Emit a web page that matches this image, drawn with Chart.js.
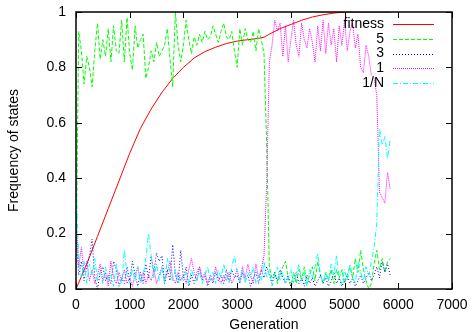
<!DOCTYPE html>
<html>
<head>
<meta charset="utf-8">
<script src="https://cdn.jsdelivr.net/npm/chart.js@4"></script>
<style>
html, body { margin: 0; padding: 0; background: #fff; }
</style>
</head>
<body>
<canvas id="canvas" width="472" height="332"></canvas>
<script>
// generations sampled for the state series
const generations = [
  0, 50, 100, 150, 200, 250, 300, 350, 400, 450,
  500, 550, 600, 650, 700, 750, 800, 850, 900, 950,
  1000, 1050, 1100, 1150, 1200, 1250, 1300, 1350, 1400, 1450,
  1500, 1550, 1600, 1650, 1700, 1750, 1800, 1850, 1900, 1950,
  2000, 2050, 2100, 2150, 2200, 2250, 2300, 2350, 2400, 2450,
  2500, 2550, 2600, 2650, 2700, 2750, 2800, 2850, 2900, 2950,
  3000, 3050, 3100, 3150, 3200, 3250, 3300, 3350, 3400, 3450,
  3500, 3550, 3600, 3650, 3700, 3750, 3800, 3850, 3900, 3950,
  4000, 4050, 4100, 4150, 4200, 4250, 4300, 4350, 4400, 4450,
  4500, 4550, 4600, 4650, 4700, 4750, 4800, 4850, 4900, 4950,
  5000, 5050, 5100, 5150, 5200, 5250, 5300, 5350, 5400, 5450,
  5500, 5550, 5600, 5650, 5700, 5750, 5800, 5850
];

const fitnessGen = [0, 200, 400, 600, 800, 1000, 1200, 1400, 1600, 1800, 2000, 2200, 2400, 2600, 2800,
  3000, 3200, 3400, 3500, 3600, 3800, 4000, 4200, 4400, 4600, 4800, 5000, 5400, 5850];
const fitness = [0, 0.09, 0.19, 0.29, 0.39, 0.49, 0.58, 0.65, 0.71, 0.76, 0.80, 0.834, 0.857, 0.873, 0.886,
  0.895, 0.900, 0.905, 0.909, 0.920, 0.940, 0.955, 0.970, 0.982, 0.990, 0.996, 1.0, 1.0, 1.0];

const state5 = [
  0.05, 0.93, 0.86, 0.74, 0.84, 0.80, 0.73, 0.86, 0.96, 0.83,
  0.90, 0.84, 0.94, 0.82, 0.95, 0.86, 0.85, 0.97, 0.82, 0.98,
  0.85, 0.79, 0.95, 0.87, 0.90, 0.92, 0.76, 0.80, 0.86, 0.82,
  0.89, 0.84, 0.86, 0.88, 0.94, 0.83, 0.73, 1.00, 0.88, 0.82,
  0.88, 0.97, 0.90, 0.85, 0.91, 0.88, 0.92, 0.89, 0.93, 0.90,
  0.91, 0.95, 0.92, 0.89, 0.93, 0.96, 0.91, 0.90, 0.93, 0.86,
  0.80, 0.94, 0.88, 0.94, 0.90, 0.89, 0.93, 0.86, 0.94, 0.90,
  0.85, 0.52, 0.08, 0.04, 0.06, 0.02, 0.05, 0.08, 0.10, 0.04,
  0.01, 0.06, 0.02, 0.07, 0.03, 0.08, 0.02, 0.05, 0.08, 0.03,
  0.10, 0.05, 0.02, 0.06, 0.03, 0.07, 0.02, 0.07, 0.04, 0.07,
  0.02, 0.05, 0.08, 0.04, 0.11, 0.06, 0.14, 0.07, 0.03, 0.00,
  0.02, 0.09, 0.14, 0.07, 0.11, 0.06, 0.10, 0.11
];
const state3 = [
  0.20, 0.05, 0.10, 0.03, 0.08, 0.12, 0.18, 0.04, 0.00, 0.06,
  0.08, 0.03, 0.05, 0.02, 0.10, 0.07, 0.01, 0.04, 0.02, 0.08,
  0.03, 0.10, 0.05, 0.01, 0.06, 0.02, 0.09, 0.04, 0.12, 0.06,
  0.13, 0.10, 0.12, 0.02, 0.07, 0.03, 0.16, 0.05, 0.02, 0.14,
  0.04, 0.08, 0.01, 0.05, 0.02, 0.06, 0.08, 0.03, 0.05, 0.01,
  0.04, 0.02, 0.06, 0.03, 0.05, 0.02, 0.07, 0.03, 0.07, 0.04,
  0.05, 0.02, 0.06, 0.03, 0.05, 0.01, 0.04, 0.06, 0.02, 0.07,
  0.04, 0.08, 0.05, 0.02, 0.06, 0.03, 0.07, 0.04, 0.02, 0.05,
  0.01, 0.03, 0.06, 0.02, 0.04, 0.01, 0.05, 0.02, 0.04, 0.01,
  0.03, 0.05, 0.02, 0.04, 0.01, 0.03, 0.06, 0.02, 0.04, 0.01,
  0.03, 0.05, 0.02, 0.04, 0.01, 0.03, 0.05, 0.02, 0.04, 0.06,
  0.03, 0.05, 0.08, 0.04, 0.10, 0.06, 0.09, 0.05
];
const state1 = [
  0.27, 0.08, 0.15, 0.06, 0.10, 0.03, 0.07, 0.02, 0.05, 0.09,
  0.03, 0.06, 0.01, 0.10, 0.04, 0.02, 0.06, 0.03, 0.07, 0.02,
  0.04, 0.01, 0.05, 0.08, 0.03, 0.06, 0.02, 0.05, 0.03, 0.07,
  0.02, 0.05, 0.08, 0.03, 0.06, 0.10, 0.04, 0.02, 0.06, 0.03,
  0.05, 0.02, 0.07, 0.11, 0.06, 0.03, 0.08, 0.04, 0.06, 0.02,
  0.05, 0.03, 0.08, 0.04, 0.02, 0.05, 0.03, 0.06, 0.02, 0.04,
  0.07, 0.03, 0.08, 0.04, 0.09, 0.05, 0.02, 0.09, 0.04, 0.07,
  0.12, 0.38, 0.82, 0.88, 0.97, 0.93, 0.96, 0.84, 0.95, 0.82,
  0.90, 0.97, 0.88, 0.84, 0.96, 0.90, 0.87, 0.94, 0.89, 0.82,
  0.95, 0.86, 0.97, 0.85, 0.96, 0.88, 0.94, 0.82, 0.95, 0.88,
  0.97, 0.86, 0.93, 0.96, 0.87, 0.92, 0.80, 0.78, 0.88, 0.84,
  0.77, 0.76, 0.70, 0.35, 0.33, 0.31, 0.42, 0.36
];
const state1N = [
  0.38, 0.12, 0.04, 0.10, 0.02, 0.09, 0.05, 0.11, 0.03, 0.06,
  0.02, 0.08, 0.03, 0.05, 0.01, 0.09, 0.04, 0.02, 0.14, 0.05,
  0.02, 0.07, 0.03, 0.08, 0.02, 0.05, 0.11, 0.20, 0.12, 0.04,
  0.09, 0.03, 0.08, 0.02, 0.11, 0.06, 0.03, 0.07, 0.02, 0.05,
  0.03, 0.06, 0.02, 0.07, 0.04, 0.03, 0.06, 0.02, 0.05, 0.08,
  0.03, 0.06, 0.02, 0.07, 0.04, 0.09, 0.05, 0.02, 0.08, 0.12,
  0.06, 0.03, 0.07, 0.02, 0.06, 0.04, 0.08, 0.02, 0.05, 0.03,
  0.10, 0.04, 0.07, 0.01, 0.05, 0.08, 0.03, 0.06, 0.02, 0.04,
  0.07, 0.02, 0.05, 0.09, 0.03, 0.06, 0.01, 0.07, 0.04, 0.08,
  0.13, 0.05, 0.02, 0.06, 0.03, 0.09, 0.05, 0.12, 0.04, 0.02,
  0.07, 0.03, 0.09, 0.04, 0.02, 0.10, 0.06, 0.03, 0.08, 0.05,
  0.10, 0.15, 0.24, 0.58, 0.52, 0.55, 0.47, 0.54
];

const xTicks = [0, 1000, 2000, 3000, 4000, 5000, 6000, 7000];
const yTicks = [0, 0.2, 0.4, 0.6, 0.8, 1];

const font = { family: '"Liberation Sans", Arial, sans-serif', size: 14 };

function points(xs, ys) {
  return ys.map(function (v, i) { return { x: xs[i], y: v }; });
}

// gnuplot-like frame: border, inward ticks on all sides, key inside top right
const frame = {
  id: 'frame',
  afterDatasetsDraw: function (chart) {
    const c = chart.ctx;
    const a = chart.chartArea;
    const xs = chart.scales.x, ys = chart.scales.y;
    c.save();
    c.strokeStyle = '#000';
    c.lineWidth = 1;
    c.beginPath();
    xTicks.forEach(function (t) {
      const px = Math.round(xs.getPixelForValue(t)) + 0.5;
      c.moveTo(px, a.bottom); c.lineTo(px, a.bottom - 6);
      c.moveTo(px, a.top); c.lineTo(px, a.top + 6);
    });
    yTicks.forEach(function (t) {
      const py = Math.round(ys.getPixelForValue(t)) + 0.5;
      c.moveTo(a.left, py); c.lineTo(a.left + 6, py);
      c.moveTo(a.right, py); c.lineTo(a.right - 6, py);
    });
    c.stroke();
    c.lineWidth = 1.5;
    c.strokeRect(a.left, a.top, a.right - a.left, a.bottom - a.top);

    // key
    c.font = '14px ' + font.family;
    c.textAlign = 'right';
    c.textBaseline = 'middle';
    chart.data.datasets.forEach(function (ds, i) {
      const y = a.top + 12 + i * 14.8;
      c.fillStyle = '#000';
      c.fillText(ds.label, a.right - 68, y);
      c.setLineDash(ds.borderDash || []);
      c.strokeStyle = ds.borderColor;
      c.lineWidth = 1;
      c.beginPath();
      c.moveTo(a.right - 59, Math.round(y) + 0.5);
      c.lineTo(a.right - 18, Math.round(y) + 0.5);
      c.stroke();
    });
    c.restore();
  }
};

const ctx = document.getElementById('canvas');
new Chart(ctx, {
  type: 'line',
  data: {
    datasets: [
      { label: 'fitness', data: points(fitnessGen, fitness), borderColor: '#ff0000', order: 4 },
      { label: '5', data: points(generations, state5), borderColor: '#00ff00', borderDash: [4, 2], order: 3 },
      { label: '3', data: points(generations, state3), borderColor: '#0000ff', borderDash: [1, 2], order: 2 },
      { label: '1', data: points(generations, state1), borderColor: '#ff00ff', borderDash: [1, 1], order: 1 },
      { label: '1/N', data: points(generations, state1N), borderColor: '#00ffff', borderDash: [5, 2, 1, 2], order: 0 }
    ]
  },
  options: {
    responsive: false,
    animation: false,
    layout: { padding: { top: 12, right: 20, left: 0, bottom: 0 } },
    elements: {
      point: { radius: 0 },
      line: { borderWidth: 1, tension: 0, fill: false }
    },
    plugins: {
      legend: { display: false },
      tooltip: { enabled: false }
    },
    scales: {
      x: {
        type: 'linear',
        min: 0,
        max: 7000,
        grid: { display: false },
        border: { display: false },
        afterBuildTicks: function (s) { s.ticks = xTicks.map(function (v) { return { value: v }; }); },
        ticks: {
          color: '#000', font: font, padding: 0, maxRotation: 0,
          callback: function (v) { return String(v); }
        },
        title: {
          display: true, text: 'Generation', color: '#000',
          font: { family: font.family, size: 14, lineHeight: 1 }, padding: 0
        },
        afterFit: function (s) { s.height = 43; }
      },
      y: {
        min: 0,
        max: 1,
        grid: { display: false },
        border: { display: false },
        afterBuildTicks: function (s) { s.ticks = yTicks.map(function (v) { return { value: v }; }); },
        ticks: {
          color: '#000', font: font, padding: 2,
          callback: function (v) { return String(v); }
        },
        title: { display: true, text: 'Frequency of states', color: '#000', font: font, padding: { top: 5.5, bottom: 0 } },
        afterFit: function (s) { s.width = 76; }
      }
    }
  },
  plugins: [frame]
});
</script>
</body>
</html>
